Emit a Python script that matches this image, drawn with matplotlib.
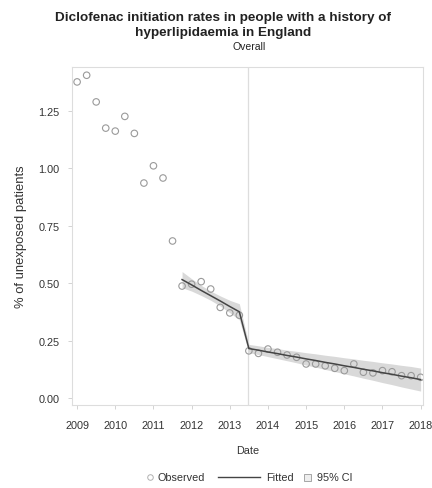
import matplotlib
matplotlib.use("Agg")
import matplotlib.pyplot as plt
from matplotlib.lines import Line2D
from matplotlib.patches import Rectangle

plt.rcParams['font.family'] = ['Liberation Sans', 'DejaVu Sans']

# quarterly observations, pre and post the 2013 restriction
obs_dates = [2009.0, 2009.25, 2009.5, 2009.75, 2010.0, 2010.25, 2010.5, 2010.75,
             2011.0, 2011.25, 2011.5, 2011.75, 2012.0, 2012.25, 2012.5, 2012.75,
             2013.0, 2013.25,
             2013.5, 2013.75, 2014.0, 2014.25, 2014.5, 2014.75, 2015.0, 2015.25,
             2015.5, 2015.75, 2016.0, 2016.25, 2016.5, 2016.75, 2017.0, 2017.25,
             2017.5, 2017.75, 2018.0]
obs_rate = [1.375, 1.404, 1.288, 1.174, 1.161, 1.225, 1.151, 0.935,
            1.010, 0.957, 0.683, 0.487, 0.495, 0.506, 0.474, 0.394,
            0.370, 0.360,
            0.205, 0.194, 0.213, 0.199, 0.187, 0.177, 0.148, 0.148,
            0.140, 0.129, 0.119, 0.148, 0.112, 0.109, 0.119, 0.114,
            0.097, 0.097, 0.090]

# segmented regression fit with 95% confidence limits
fit_dates = [2011.75, 2012.0, 2012.25, 2012.5, 2012.75, 2013.0, 2013.25,
             2013.5, 2013.75, 2014.0, 2014.25, 2014.5, 2014.75, 2015.0, 2015.25,
             2015.5, 2015.75, 2016.0, 2016.25, 2016.5, 2016.75, 2017.0, 2017.25,
             2017.5, 2017.75, 2018.0]
fit_rate = [0.515, 0.492, 0.468, 0.445, 0.422, 0.398, 0.375,
            0.215, 0.208, 0.200, 0.193, 0.185, 0.178, 0.170, 0.163,
            0.155, 0.148, 0.140, 0.133, 0.125, 0.118, 0.110, 0.103,
            0.095, 0.088, 0.080]
ci_low = [0.480, 0.465, 0.446, 0.425, 0.400, 0.371, 0.340,
          0.197, 0.189, 0.180, 0.171, 0.162, 0.153, 0.143, 0.134,
          0.124, 0.115, 0.105, 0.096, 0.086, 0.077, 0.067, 0.058,
          0.048, 0.039, 0.030]
ci_high = [0.550, 0.519, 0.490, 0.465, 0.444, 0.425, 0.410,
           0.233, 0.227, 0.220, 0.215, 0.208, 0.203, 0.197, 0.192,
           0.186, 0.181, 0.175, 0.170, 0.164, 0.159, 0.153, 0.148,
           0.142, 0.137, 0.130]

intervention = 2013.48
year_ticks = list(range(2009, 2019))
rate_ticks = [0.00, 0.25, 0.50, 0.75, 1.00, 1.25]

W, H = 432, 489
fig = plt.figure(figsize=(W / 100, H / 100), dpi=100)
ax = fig.add_axes([0.167, 0.170, 0.812, 0.691])

ax.fill_between(fit_dates, ci_low, ci_high, color='#d9d9d9', lw=0, zorder=1)
ax.plot(fit_dates, fit_rate, color='#444444', lw=1.1, zorder=3)
ax.scatter(obs_dates, obs_rate, s=22, facecolors='none', edgecolors='#9a9a9a',
           linewidths=0.8, zorder=2)
ax.axvline(intervention, color='#dddddd', lw=0.9, zorder=0)

ax.set_xlim(2008.87, 2018.06)
ax.set_ylim(-0.03, 1.44)
ax.set_xticks(year_ticks)
ax.set_yticks(rate_ticks)
ax.set_yticklabels([f'{v:.2f}' for v in rate_ticks])
ax.tick_params(labelsize=7.8, colors='#cccccc', labelcolor='#333333',
               length=3, width=0.6)
ax.tick_params(axis='x', pad=8)
ax.tick_params(axis='y', pad=6)
for s in ax.spines.values():
    s.set_color('#dddddd')
    s.set_linewidth(0.8)

ax.set_xlabel('Date', fontsize=7.8, color='#333333', labelpad=11)
ax.set_ylabel('% of unexposed patients', fontsize=9.4, color='#333333', labelpad=8)

fig.text(223 / W, 1 - 25.5 / H,
         'Diclofenac initiation rates in people with a history of\nhyperlipidaemia in England',
         ha='center', va='center', fontsize=9.7, fontweight='bold', color='#222222',
         linespacing=1.3)
fig.text(249 / W, 1 - 47 / H, 'Overall', ha='center', va='center', fontsize=7.5,
         color='#222222')

# legend row laid out in pixel positions along the bottom
ly = 1 - 478 / H
fig.add_artist(Line2D([150 / W], [ly], transform=fig.transFigure, marker='o', ls='none',
                      mfc='none', mec='#b0b0b0', ms=4, mew=0.7))
fig.text(158 / W, ly, 'Observed', ha='left', va='center', fontsize=7.8, color='#333333')
fig.add_artist(Line2D([218 / W, 260 / W], [ly, ly], transform=fig.transFigure,
                      color='#444444', lw=1.0))
fig.text(266 / W, ly, 'Fitted', ha='left', va='center', fontsize=7.8, color='#333333')
fig.add_artist(Rectangle((304 / W, ly - 3.5 / H), 7 / W, 7 / H, transform=fig.transFigure,
                         facecolor='#eeeeee', edgecolor='#999999', lw=0.6))
fig.text(317 / W, ly, '95% CI', ha='left', va='center', fontsize=7.8, color='#333333')

fig.savefig('out.png', dpi=100)
